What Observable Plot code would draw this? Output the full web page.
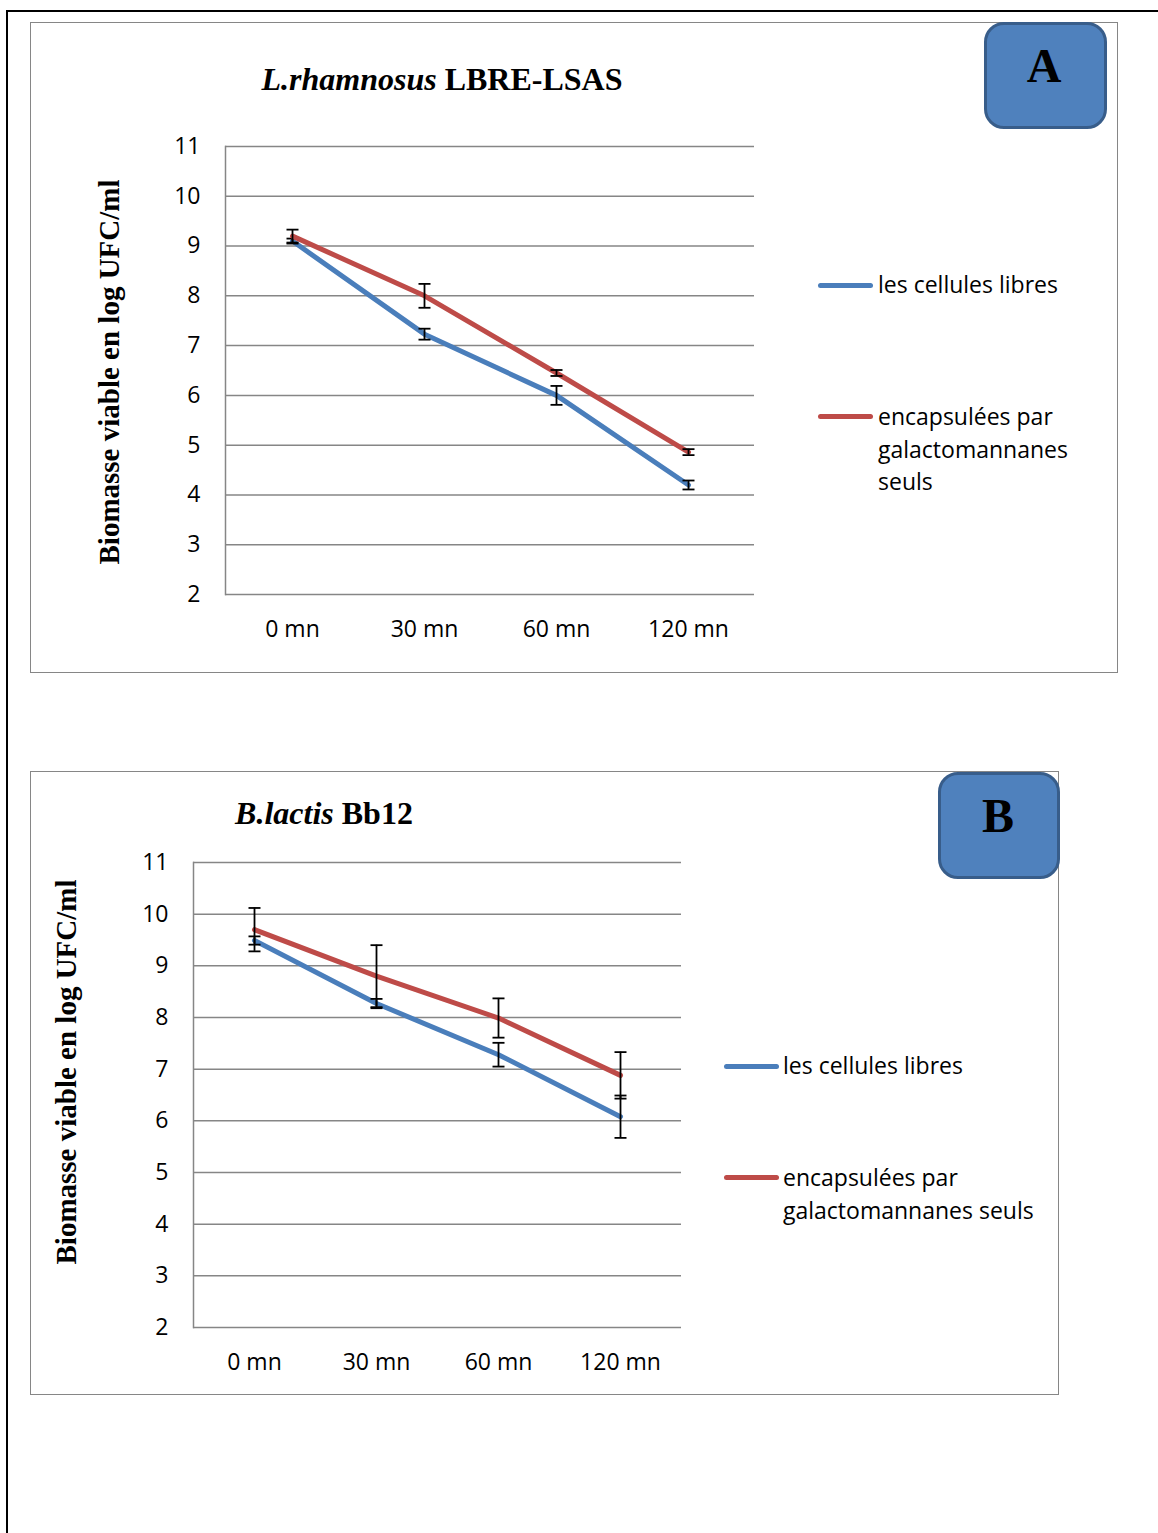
<!DOCTYPE html>
<html lang="fr">
<head>
<meta charset="utf-8">
<script src="https://cdn.jsdelivr.net/npm/d3@7"></script>
<script src="https://cdn.jsdelivr.net/npm/@observablehq/plot@0.6"></script>
<style>
  html, body { margin: 0; padding: 0; background: #fff; }
  #page { position: relative; width: 1158px; height: 1533px; overflow: hidden; background: #fff; }
  .abs { position: absolute; }
  .panel { position: absolute; box-sizing: border-box; border: 1.5px solid #868686; }
  .title { position: absolute; transform: translateX(-50%); white-space: nowrap;
           font-family: "Liberation Serif", "Times New Roman", serif; font-weight: bold;
           font-size: 32px; line-height: 32px; color: #000; }
  .ytitle { position: absolute; transform: translate(-50%, -50%) rotate(-90deg); white-space: nowrap;
            font-family: "Liberation Serif", "Times New Roman", serif; font-weight: bold;
            font-size: 29px; line-height: 29px; color: #000; }
  .badge { position: absolute; box-sizing: border-box; background: #4F81BD;
           border: 3px solid #385D8A; border-radius: 20px; }
  .badge-letter { position: absolute; transform: translateX(-50%);
                  font-family: "Liberation Serif", "Times New Roman", serif; font-weight: bold;
                  font-size: 48px; line-height: 48px; color: #000; }
  .swatch { position: absolute; height: 5px; border-radius: 3px; }
  .legend-text { position: absolute; font-family: "Open Sans", sans-serif; font-size: 23px;
                 line-height: 32.5px; color: #000; white-space: nowrap; }
</style>
</head>
<body>
<div id="page"></div>
<script>
// Sampling times (x categories) and y-axis ticks
const times = ["0 mn", "30 mn", "60 mn", "120 mn"];
const yTicks = [2, 3, 4, 5, 6, 7, 8, 9, 10, 11];

// Series names
const seriesLibres = "les cellules libres";
const seriesEncaps = "encapsulées par galactomannanes seuls";

// Panel A — L.rhamnosus LBRE-LSAS (log UFC/ml, with standard deviations)
const libresA = [9.1, 7.23, 6.0, 4.2];
const libresErrA = [0.05, 0.11, 0.19, 0.09];
const encapsA = [9.2, 8.0, 6.45, 4.86];
const encapsErrA = [0.13, 0.24, 0.06, 0.06];

// Panel B — B.lactis Bb12
const libresB = [9.49, 8.27, 7.28, 6.08];
const libresErrB = [0.08, 0.09, 0.23, 0.41];
const encapsB = [9.7, 8.8, 7.99, 6.88];
const encapsErrB = [0.42, 0.6, 0.38, 0.45];

const colors = {libres: "#4A7EBB", encaps: "#BE4B48"};

const page = document.getElementById("page");

function el(cls, css, html) {
  const d = document.createElement("div");
  if (cls) d.className = cls;
  Object.assign(d.style, css);
  if (html != null) d.innerHTML = html;
  page.appendChild(d);
  return d;
}

// Horizontal cap used at both ends of an error bar
const capSymbol = {
  draw(context, size) {
    const w = Math.sqrt(size / Math.PI);
    context.moveTo(-w, 0);
    context.lineTo(w, 0);
  }
};

function rows(values, errs) {
  return times.map((t, i) => ({t, v: values[i], lo: values[i] - errs[i], hi: values[i] + errs[i]}));
}

function seriesMarks(data, color) {
  return [
    Plot.line(data, {x: "t", y: "v", stroke: color, strokeWidth: 5, strokeLinecap: "round", strokeLinejoin: "round"}),
    Plot.ruleX(data, {x: "t", y1: "lo", y2: "hi", stroke: "#000", strokeWidth: 1.8}),
    Plot.dot(data, {x: "t", y: "lo", symbol: capSymbol, r: 6, fill: "none", stroke: "#000", strokeWidth: 1.8}),
    Plot.dot(data, {x: "t", y: "hi", symbol: capSymbol, r: 6, fill: "none", stroke: "#000", strokeWidth: 1.8})
  ];
}

function chart({width, height, margins, libres, libresErr, encaps, encapsErr}) {
  const dl = rows(libres, libresErr);
  const de = rows(encaps, encapsErr);
  return Plot.plot({
    width, height,
    marginLeft: margins[0], marginRight: margins[1], marginTop: margins[2], marginBottom: margins[3],
    style: {background: "transparent", fontFamily: "'Open Sans', sans-serif", fontSize: "23px", color: "#000", overflow: "visible"},
    x: {type: "point", domain: times, padding: 0.5},
    y: {domain: [2, 11]},
    marks: [
      Plot.gridY(yTicks, {stroke: "#868686", strokeOpacity: 1, strokeWidth: 1.5}),
      Plot.frame({anchor: "left", stroke: "#868686", strokeWidth: 1.5}),
      Plot.axisY(yTicks, {tickSize: 0, tickPadding: 25, label: null, tickFormat: d => String(d)}),
      Plot.axisX({tickSize: 0, tickPadding: 26, label: null}),
      ...seriesMarks(dl, colors.libres),
      ...seriesMarks(de, colors.encaps)
    ]
  });
}

function place(svg, left, top) {
  svg.style.position = "absolute";
  svg.style.left = left + "px";
  svg.style.top = top + "px";
  page.appendChild(svg);
}

// Outer page rules
el("abs", {left: "6px", top: "10px", width: "1152px", height: "2px", background: "#000"});
el("abs", {left: "6px", top: "10px", width: "2px", height: "1523px", background: "#000"});

// ---------- Panel A ----------
el("panel", {left: "30px", top: "22px", width: "1088px", height: "651px"});
place(chart({
  width: 1086, height: 650, margins: [194, 363, 124, 78],
  libres: libresA, libresErr: libresErrA, encaps: encapsA, encapsErr: encapsErrA
}), 31, 22);
el("title", {left: "442px", top: "63px"}, "<i>L.rhamnosus</i> LBRE-LSAS");
el("ytitle", {left: "109px", top: "372px"}, "Biomasse viable en log UFC/ml");
el("badge", {left: "984px", top: "22px", width: "123px", height: "107px"});
el("badge-letter", {left: "1044px", top: "42px"}, "A");
el("swatch", {left: "818px", top: "283px", width: "55px", background: colors.libres});
el("legend-text", {left: "878px", top: "268px"}, seriesLibres);
el("swatch", {left: "818px", top: "414px", width: "55px", background: colors.encaps});
el("legend-text", {left: "878px", top: "400px"}, "encapsulées par<br>galactomannanes<br>seuls");

// ---------- Panel B ----------
el("panel", {left: "30px", top: "771px", width: "1029px", height: "624px"});
place(chart({
  width: 1027, height: 622, margins: [162, 377, 90, 67],
  libres: libresB, libresErr: libresErrB, encaps: encapsB, encapsErr: encapsErrB
}), 31, 772);
el("title", {left: "324px", top: "797px"}, "<i>B.lactis</i> Bb12");
el("ytitle", {left: "66px", top: "1072px"}, "Biomasse viable en log UFC/ml");
el("badge", {left: "938px", top: "772px", width: "122px", height: "107px"});
el("badge-letter", {left: "998px", top: "792px"}, "B");
el("swatch", {left: "724px", top: "1064px", width: "55px", background: colors.libres});
el("legend-text", {left: "783px", top: "1049px"}, seriesLibres);
el("swatch", {left: "724px", top: "1175px", width: "55px", background: colors.encaps});
el("legend-text", {left: "783px", top: "1161px"}, "encapsulées par<br>galactomannanes seuls");
</script>
</body>
</html>
